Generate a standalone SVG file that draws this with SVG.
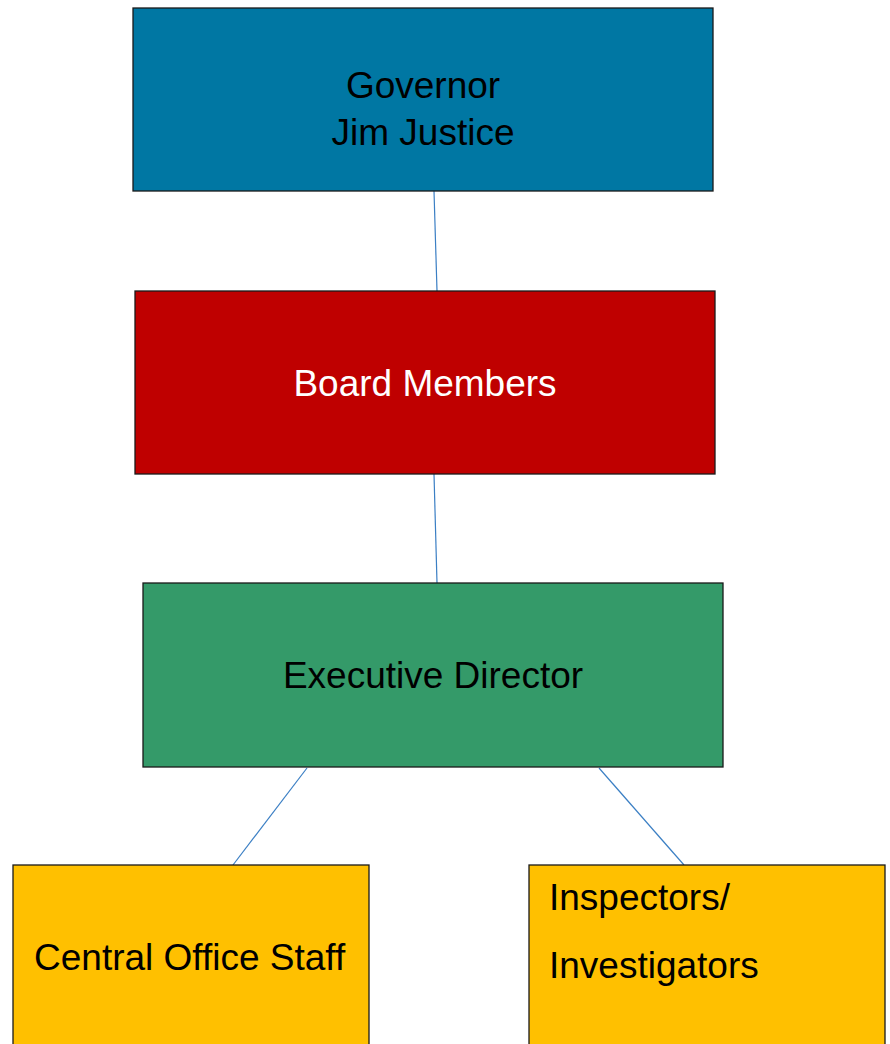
<svg xmlns="http://www.w3.org/2000/svg" width="890" height="1044" viewBox="0 0 890 1044">
<style>
.box{stroke:#1a1a1a;stroke-width:1.3}
.t{font-family:"Liberation Sans",Arial,sans-serif;font-size:37px}
.c{stroke:#3b7fc4;stroke-width:1.2;fill:none}
</style>
<rect width="890" height="1044" fill="#ffffff"/>
<g id="connectors">
<line class="c" x1="434" y1="191" x2="437" y2="291"/>
<line class="c" x1="434" y1="474" x2="437" y2="583"/>
<line class="c" x1="307" y1="768" x2="233" y2="865"/>
<line class="c" x1="599" y1="768" x2="684" y2="865"/>
</g>
<g id="governor">
<rect class="box" x="133" y="8" width="580" height="183" fill="#0077a3"/>
<text class="t" x="423" y="98" text-anchor="middle" fill="#000">Governor</text>
<text class="t" x="423" y="145" text-anchor="middle" fill="#000">Jim Justice</text>
</g>
<g id="board">
<rect class="box" x="135" y="291" width="580" height="183" fill="#bf0000"/>
<text class="t" x="425" y="396" text-anchor="middle" fill="#ffffff">Board Members</text>
</g>
<g id="executive">
<rect class="box" x="143" y="583" width="580" height="184" fill="#349a69"/>
<text class="t" x="433" y="688" text-anchor="middle" fill="#000">Executive Director</text>
</g>
<g id="central">
<rect class="box" x="13" y="865" width="356" height="190" fill="#ffc000"/>
<text class="t" x="34" y="970" fill="#000">Central Office Staff</text>
</g>
<g id="inspectors">
<rect class="box" x="529" y="865" width="356" height="190" fill="#ffc000"/>
<text class="t" x="549" y="910" fill="#000">Inspectors/</text>
<text class="t" x="549" y="978" fill="#000">Investigators</text>
</g>
</svg>
